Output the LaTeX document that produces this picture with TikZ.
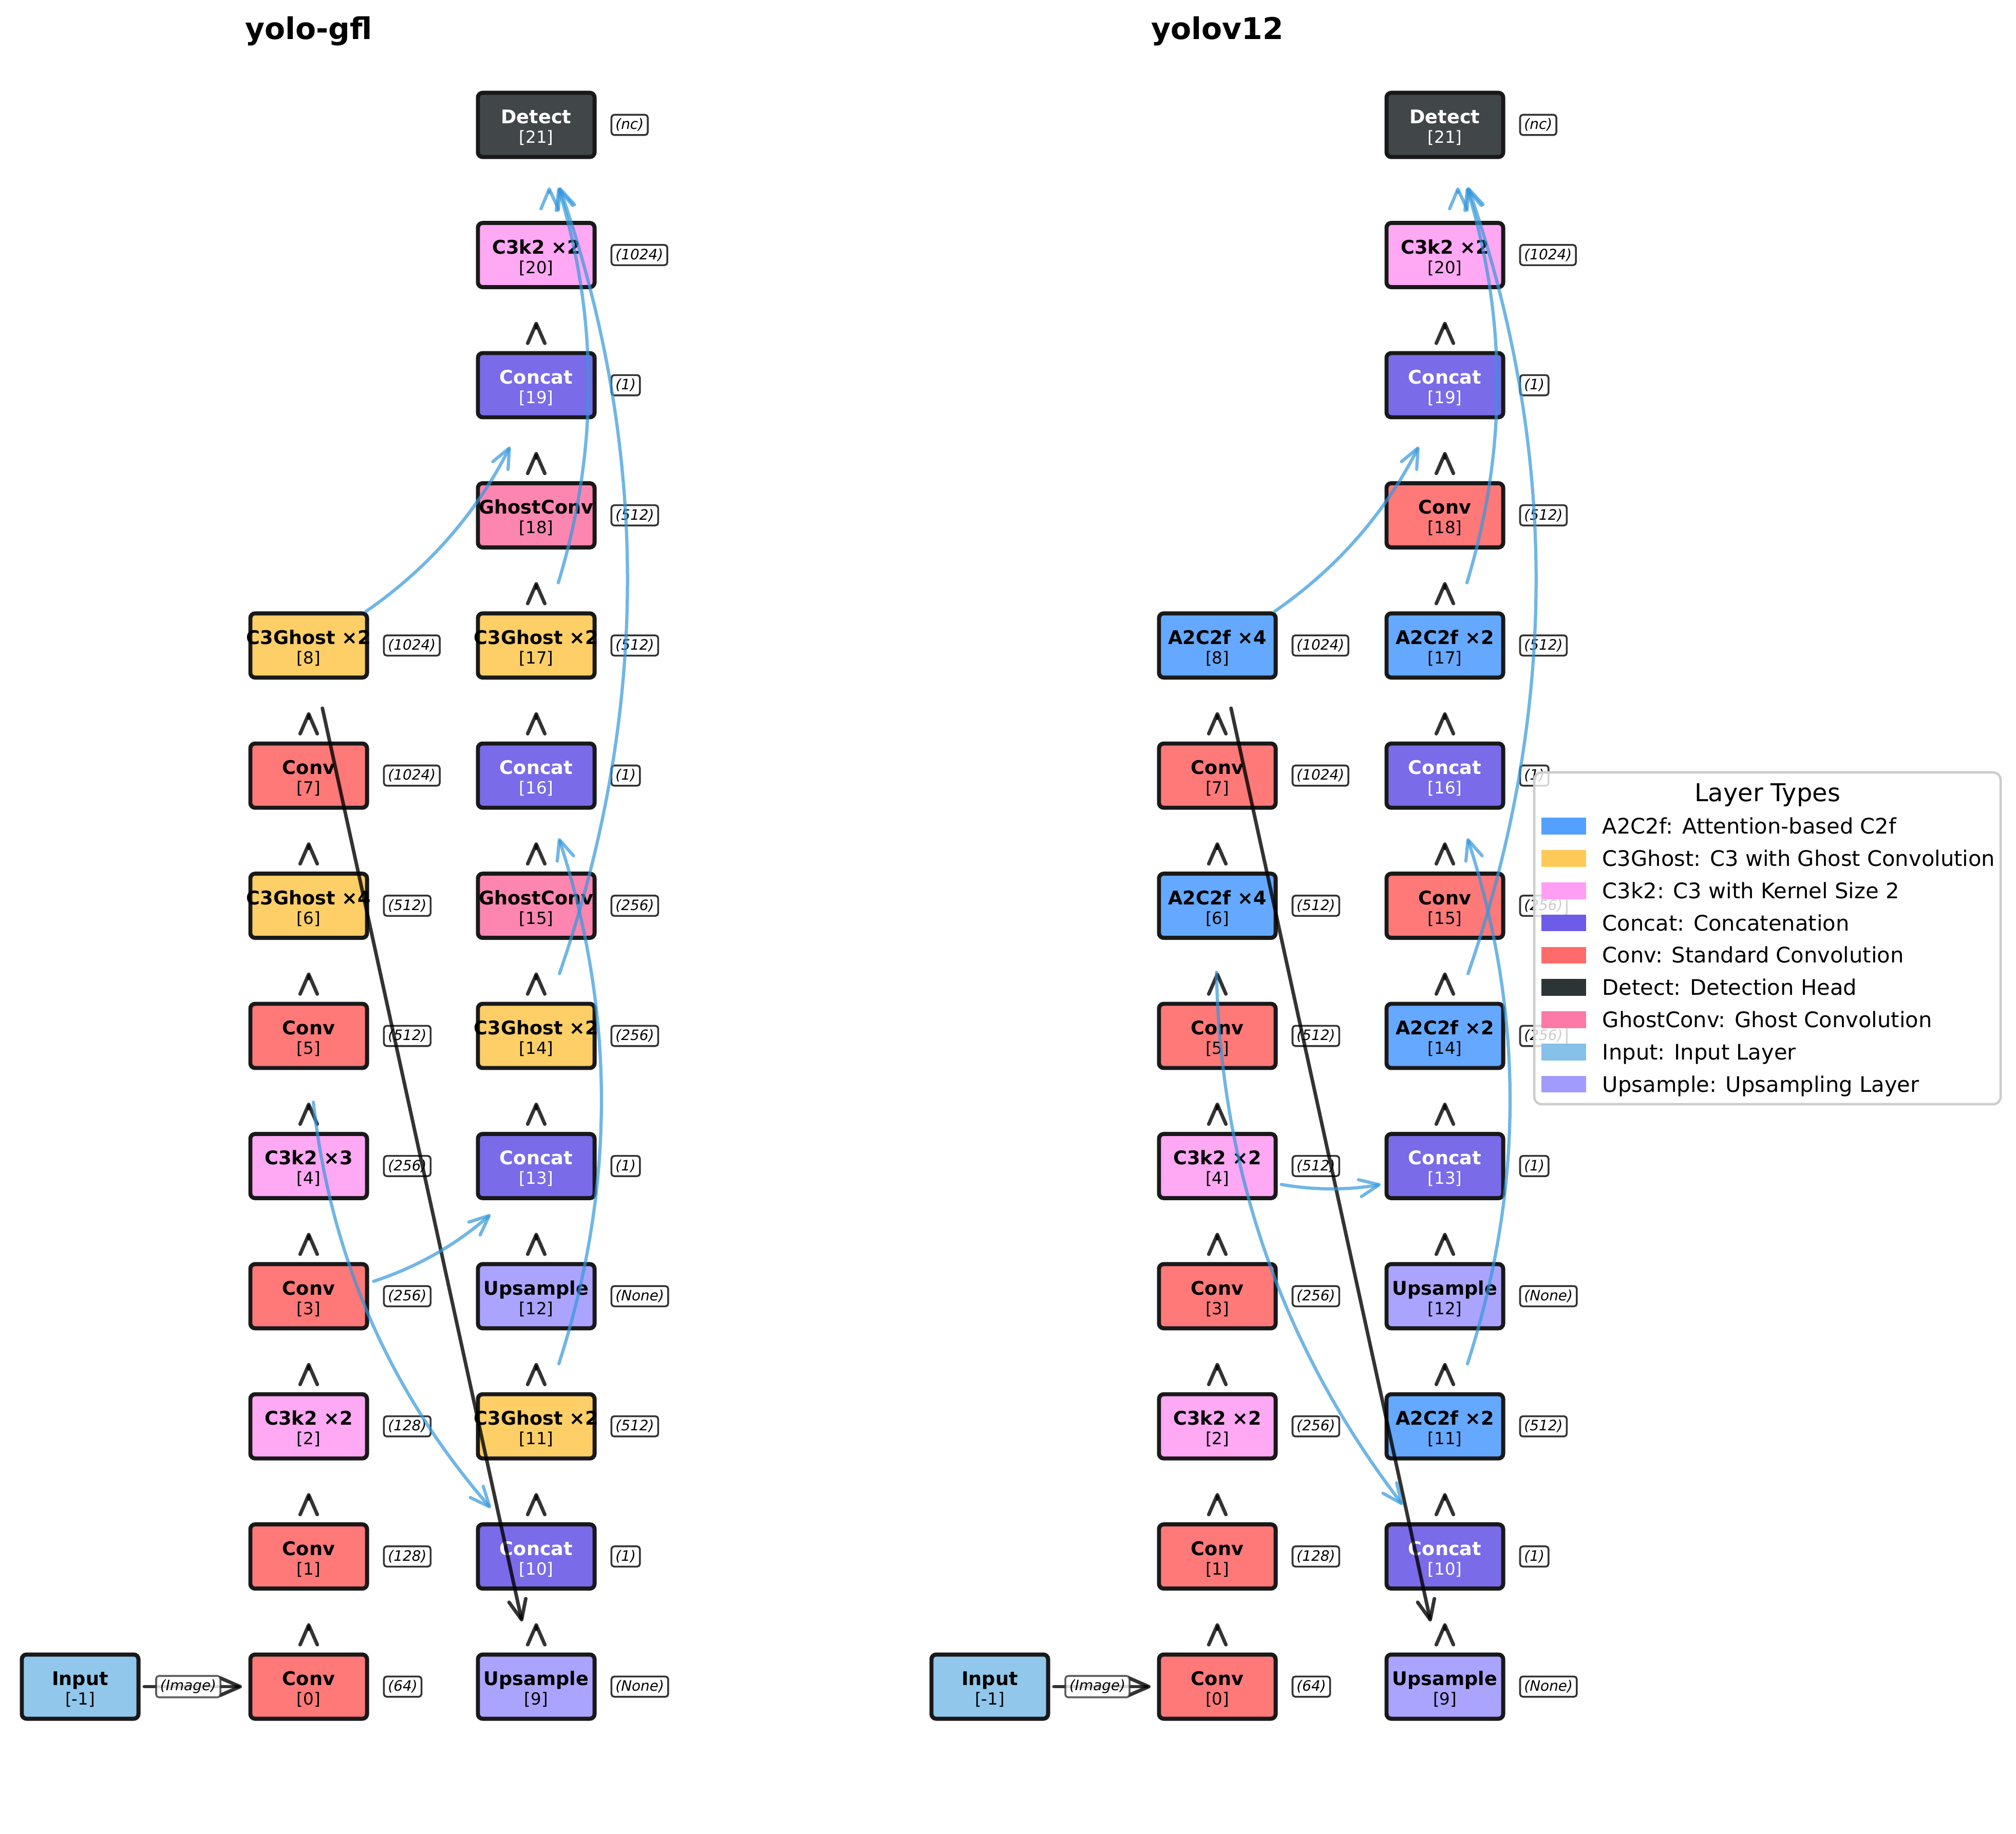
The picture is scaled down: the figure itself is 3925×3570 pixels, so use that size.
\documentclass[tikz,border=0pt]{standalone}
\usepackage{fontspec}
\setmainfont{DejaVu Sans}[BoldFont={DejaVu Sans Bold},ItalicFont={DejaVu Sans Oblique},BoldItalicFont={DejaVu Sans Bold Oblique}]
\usetikzlibrary{arrows.meta,calc}

% layer type colours (fill / text)
\definecolor{cA2C2f}{HTML}{54A0FF}
\definecolor{cC3Ghost}{HTML}{FECA57}
\definecolor{cC3k2}{HTML}{FF9FF3}
\definecolor{cConcat}{HTML}{6C5CE7}
\definecolor{cConv}{HTML}{FF6B6B}
\definecolor{cDetect}{HTML}{2D3436}
\definecolor{cGhostConv}{HTML}{FD79A8}
\definecolor{cInput}{HTML}{85C1E9}
\definecolor{cUpsample}{HTML}{A29BFE}
\colorlet{tA2C2f}{black}
\colorlet{tC3Ghost}{black}
\colorlet{tC3k2}{black}
\colorlet{tConcat}{white}
\colorlet{tConv}{black}
\colorlet{tDetect}{white}
\colorlet{tGhostConv}{black}
\colorlet{tInput}{black}
\colorlet{tUpsample}{black}
\definecolor{skipblue}{HTML}{3498DB}
\definecolor{legframe}{HTML}{CCCCCC}

\tikzset{
  layerbox/.style={draw=black!90, line width=1.9pt, rounded corners=2.2pt,
    minimum width=54.5pt, minimum height=30pt, inner sep=0pt, outer sep=0pt, fill opacity=0.9},
  nametext/.style={anchor=base, inner sep=0pt, font=\fontsize{8.8}{10}\selectfont\bfseries},
  idxtext/.style={anchor=base, inner sep=0pt, font=\fontsize{7.8}{9}\selectfont},
  paramtag/.style={anchor=west, draw=black!80, line width=0.85pt, rounded corners=1.3pt,
    fill=white, fill opacity=0.8, text opacity=1, inner xsep=1.9pt, inner ysep=1.75pt,
    outer sep=0pt, font=\fontsize{6.7}{8}\selectfont\itshape},
  headtip/.tip={Straight Barb[length=9.2pt,width=8pt,round]},
  seqline/.style={draw=black, draw opacity=0.8, line width=1.65pt, line cap=round, -headtip},
  skipline/.style={draw=skipblue, draw opacity=0.7, line width=1.5pt, line cap=round, -headtip},
  figtitle/.style={anchor=base, inner sep=0pt, font=\fontsize{14}{16}\selectfont\bfseries},
  legtitle/.style={anchor=base, inner sep=0pt, font=\fontsize{11.5}{13}\selectfont},
  legtext/.style={anchor=base west, inner sep=0pt, font=\fontsize{10}{12}\selectfont},
}

% a layer box with its name and index
\newcommand\layerbox[6]{% name, x, y, type, title, index
  \node[layerbox, fill=c#4] (#1) at (#2,-#3) {};
  \node[nametext, text=t#4] (#1-t) at ([yshift=0.6pt]#1.center) {#5};
  \node[idxtext, text=t#4] (#1-i) at ([yshift=-8.52pt]#1.center) {#6};
}
% a layer box plus its output-channel tag
\newcommand\layer[7]{%
  \layerbox{#1}{#2}{#3}{#4}{#5}{#6}
  \node[paramtag] (#1-p) at ([xshift=7.9pt]#1.east) {#7};
}
% sequential link: only the head is visible between stacked boxes
\newcommand\seqlink[2]{%
  \draw[seqline] ($(#2.center)!34pt!(#1.center)$) -- ($(#2.center)!31.2pt!(#1.center)$);
}
% curved skip link: arc (rad 0.2) between centres, trimmed at both ends
\newcommand\skiplink[3]{%
  \pgfmathsetmacro\skT{1-#3}
  \coordinate (sk-m) at ($(#1.center)!0.5!(#2.center)$);
  \coordinate (sk-c) at ($(sk-m)!0.4!-90:(#2.center)$);
  \coordinate (sk-l0) at ($(#1.center)!#3!(sk-c)$);
  \coordinate (sk-r0) at ($(sk-c)!#3!(#2.center)$);
  \coordinate (sk-l1) at ($(#1.center)!\skT!(sk-c)$);
  \coordinate (sk-r1) at ($(sk-c)!\skT!(#2.center)$);
  \coordinate (sk-q0) at ($(sk-l0)!#3!(sk-r0)$);
  \coordinate (sk-q1) at ($(sk-l0)!\skT!(sk-r0)$);
  \coordinate (sk-q2) at ($(sk-l1)!\skT!(sk-r1)$);
  \draw[skipline] (sk-q0) .. controls ($(sk-q0)!0.6667!(sk-q1)$) and ($(sk-q2)!0.6667!(sk-q1)$) .. (sk-q2);
}

\begin{document}
\begin{tikzpicture}[x=0.24pt, y=0.24pt]
\useasboundingbox (0,0) rectangle (3925,-3570);
\fill[white] (0,0) rectangle (3925,-3570);

% ---------------- yolo-gfl ----------------
\node[figtitle] (title-g) at (601,-76) {yolo-gfl};

\layerbox{gin}{156}{3284}{Input}{Input}{[-1]}
\layer{g0}{601}{3284}{Conv}{Conv}{[0]}{(64)}
\layer{g1}{601}{3030.6}{Conv}{Conv}{[1]}{(128)}
\layer{g2}{601}{2777.2}{C3k2}{C3k2 ×2}{[2]}{(128)}
\layer{g3}{601}{2523.8}{Conv}{Conv}{[3]}{(256)}
\layer{g4}{601}{2270.4}{C3k2}{C3k2 ×3}{[4]}{(256)}
\layer{g5}{601}{2017}{Conv}{Conv}{[5]}{(512)}
\layer{g6}{601}{1763.6}{C3Ghost}{C3Ghost ×4}{[6]}{(512)}
\layer{g7}{601}{1510.2}{Conv}{Conv}{[7]}{(1024)}
\layer{g8}{601}{1256.8}{C3Ghost}{C3Ghost ×2}{[8]}{(1024)}
\layer{g9}{1044}{3284}{Upsample}{Upsample}{[9]}{(None)}
\layer{g10}{1044}{3030.6}{Concat}{Concat}{[10]}{(1)}
\layer{g11}{1044}{2777.2}{C3Ghost}{C3Ghost ×2}{[11]}{(512)}
\layer{g12}{1044}{2523.8}{Upsample}{Upsample}{[12]}{(None)}
\layer{g13}{1044}{2270.4}{Concat}{Concat}{[13]}{(1)}
\layer{g14}{1044}{2017}{C3Ghost}{C3Ghost ×2}{[14]}{(256)}
\layer{g15}{1044}{1763.6}{GhostConv}{GhostConv}{[15]}{(256)}
\layer{g16}{1044}{1510.2}{Concat}{Concat}{[16]}{(1)}
\layer{g17}{1044}{1256.8}{C3Ghost}{C3Ghost ×2}{[17]}{(512)}
\layer{g18}{1044}{1003.4}{GhostConv}{GhostConv}{[18]}{(512)}
\layer{g19}{1044}{750}{Concat}{Concat}{[19]}{(1)}
\layer{g20}{1044}{496.6}{C3k2}{C3k2 ×2}{[20]}{(1024)}
\layer{g21}{1044}{243.2}{Detect}{Detect}{[21]}{(nc)}

\draw[seqline] ($(gin.center)!30pt!(g0.center)$) -- ($(g0.center)!31.2pt!(gin.center)$)
  node[paramtag, anchor=center, pos=0.45] (gin-p) {(Image)};
\seqlink{g0}{g1}\seqlink{g1}{g2}\seqlink{g2}{g3}\seqlink{g3}{g4}
\seqlink{g4}{g5}\seqlink{g5}{g6}\seqlink{g6}{g7}\seqlink{g7}{g8}
\seqlink{g9}{g10}\seqlink{g10}{g11}\seqlink{g11}{g12}\seqlink{g12}{g13}
\seqlink{g13}{g14}\seqlink{g14}{g15}\seqlink{g15}{g16}\seqlink{g16}{g17}
\seqlink{g17}{g18}\seqlink{g18}{g19}\seqlink{g19}{g20}
\draw[seqline] ($(g8.center)!30pt!(g9.center)$) -- ($(g9.center)!31.2pt!(g8.center)$);

\skiplink{g5}{g10}{0.1102}
\skiplink{g3}{g13}{0.2432}
\skiplink{g8}{g19}{0.1834}
\skiplink{g11}{g16}{0.0961}
\skiplink{g14}{g21}{0.0684}
\skiplink{g17}{g21}{0.1204}
\skiplink{g20}{g21}{0.48}

% ---------------- yolov12 ----------------
\node[figtitle] (title-v) at (2370,-76) {yolov12};

\layerbox{vin}{1927}{3284}{Input}{Input}{[-1]}
\layer{v0}{2370}{3284}{Conv}{Conv}{[0]}{(64)}
\layer{v1}{2370}{3030.6}{Conv}{Conv}{[1]}{(128)}
\layer{v2}{2370}{2777.2}{C3k2}{C3k2 ×2}{[2]}{(256)}
\layer{v3}{2370}{2523.8}{Conv}{Conv}{[3]}{(256)}
\layer{v4}{2370}{2270.4}{C3k2}{C3k2 ×2}{[4]}{(512)}
\layer{v5}{2370}{2017}{Conv}{Conv}{[5]}{(512)}
\layer{v6}{2370}{1763.6}{A2C2f}{A2C2f ×4}{[6]}{(512)}
\layer{v7}{2370}{1510.2}{Conv}{Conv}{[7]}{(1024)}
\layer{v8}{2370}{1256.8}{A2C2f}{A2C2f ×4}{[8]}{(1024)}
\layer{v9}{2813}{3284}{Upsample}{Upsample}{[9]}{(None)}
\layer{v10}{2813}{3030.6}{Concat}{Concat}{[10]}{(1)}
\layer{v11}{2813}{2777.2}{A2C2f}{A2C2f ×2}{[11]}{(512)}
\layer{v12}{2813}{2523.8}{Upsample}{Upsample}{[12]}{(None)}
\layer{v13}{2813}{2270.4}{Concat}{Concat}{[13]}{(1)}
\layer{v14}{2813}{2017}{A2C2f}{A2C2f ×2}{[14]}{(256)}
\layer{v15}{2813}{1763.6}{Conv}{Conv}{[15]}{(256)}
\layer{v16}{2813}{1510.2}{Concat}{Concat}{[16]}{(1)}
\layer{v17}{2813}{1256.8}{A2C2f}{A2C2f ×2}{[17]}{(512)}
\layer{v18}{2813}{1003.4}{Conv}{Conv}{[18]}{(512)}
\layer{v19}{2813}{750}{Concat}{Concat}{[19]}{(1)}
\layer{v20}{2813}{496.6}{C3k2}{C3k2 ×2}{[20]}{(1024)}
\layer{v21}{2813}{243.2}{Detect}{Detect}{[21]}{(nc)}

\draw[seqline] ($(vin.center)!30pt!(v0.center)$) -- ($(v0.center)!31.2pt!(vin.center)$)
  node[paramtag, anchor=center, pos=0.45] (vin-p) {(Image)};
\seqlink{v0}{v1}\seqlink{v1}{v2}\seqlink{v2}{v3}\seqlink{v3}{v4}
\seqlink{v4}{v5}\seqlink{v5}{v6}\seqlink{v6}{v7}\seqlink{v7}{v8}
\seqlink{v9}{v10}\seqlink{v10}{v11}\seqlink{v11}{v12}\seqlink{v12}{v13}
\seqlink{v13}{v14}\seqlink{v14}{v15}\seqlink{v15}{v16}\seqlink{v16}{v17}
\seqlink{v17}{v18}\seqlink{v18}{v19}\seqlink{v19}{v20}
\draw[seqline] ($(v8.center)!30pt!(v9.center)$) -- ($(v9.center)!31.2pt!(v8.center)$);

\skiplink{v6}{v10}{0.0907}
\skiplink{v4}{v13}{0.2812}
\skiplink{v8}{v19}{0.1834}
\skiplink{v11}{v16}{0.0961}
\skiplink{v14}{v21}{0.0684}
\skiplink{v17}{v21}{0.1204}
\skiplink{v20}{v21}{0.48}

% ---------------- legend ----------------
\draw[draw=legframe, line width=1.1pt, rounded corners=3.5pt, fill=white, fill opacity=0.8]
  (2987,-1504) rectangle (3895,-2150);
\node[legtitle] (legtitle) at (3441,-1560) {Layer Types};
\fill[cA2C2f]     (3001,-1592.3) rectangle (3088,-1624.9);
\node[legtext] (leg0) at (3119,-1623.7) {A2C2f: Attention-based C2f};
\fill[cC3Ghost]   (3001,-1655.1) rectangle (3088,-1687.7);
\node[legtext] (leg1) at (3119,-1686.5) {C3Ghost: C3 with Ghost Convolution};
\fill[cC3k2]      (3001,-1717.9) rectangle (3088,-1750.5);
\node[legtext] (leg2) at (3119,-1749.3) {C3k2: C3 with Kernel Size 2};
\fill[cConcat]    (3001,-1780.7) rectangle (3088,-1813.3);
\node[legtext] (leg3) at (3119,-1812.1) {Concat: Concatenation};
\fill[cConv]      (3001,-1843.5) rectangle (3088,-1876.1);
\node[legtext] (leg4) at (3119,-1874.9) {Conv: Standard Convolution};
\fill[cDetect]    (3001,-1906.3) rectangle (3088,-1938.9);
\node[legtext] (leg5) at (3119,-1937.7) {Detect: Detection Head};
\fill[cGhostConv] (3001,-1969.1) rectangle (3088,-2001.7);
\node[legtext] (leg6) at (3119,-2000.5) {GhostConv: Ghost Convolution};
\fill[cInput]     (3001,-2031.9) rectangle (3088,-2064.5);
\node[legtext] (leg7) at (3119,-2063.3) {Input: Input Layer};
\fill[cUpsample]  (3001,-2094.7) rectangle (3088,-2127.3);
\node[legtext] (leg8) at (3119,-2126.1) {Upsample: Upsampling Layer};
\end{tikzpicture}
\end{document}
